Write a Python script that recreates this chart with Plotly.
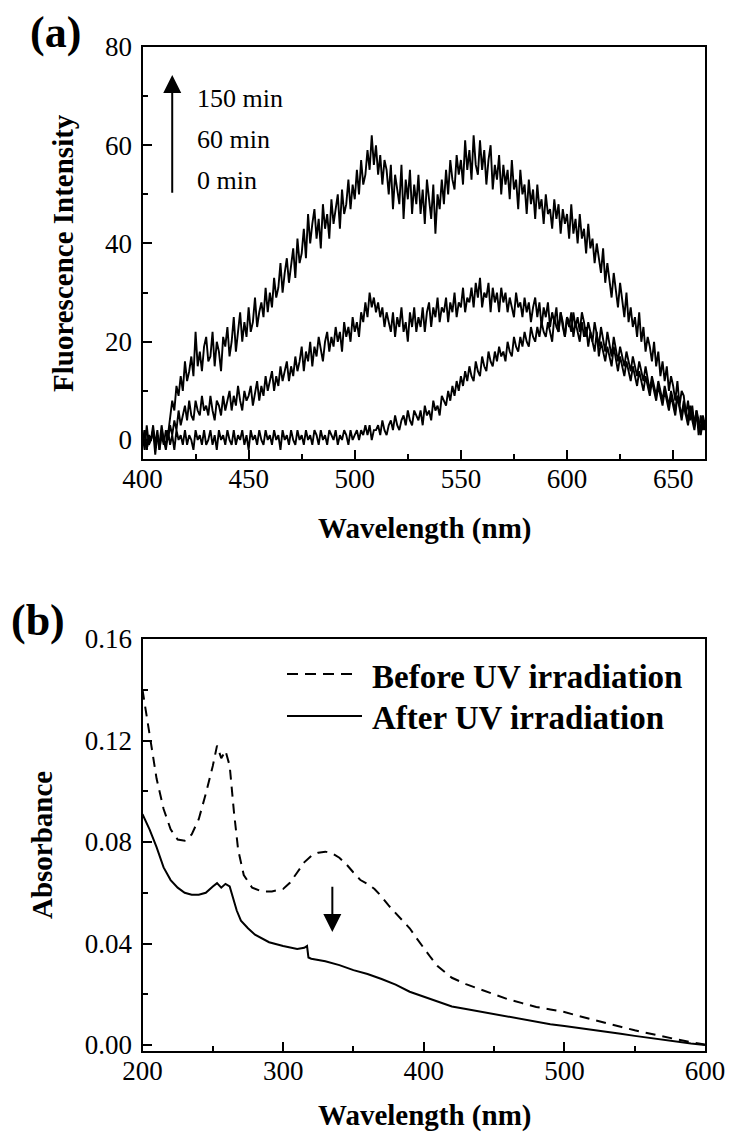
import plotly.graph_objects as go

W, H = 731, 1140

# ---------------- Panel (a): fluorescence spectra (1 nm steps from 400 nm) ----------------
wl_a_start = 400
wl_a_step = 1
fl_150 = [1, -2, 3, -1, 0, 2, -3, 1, -1, 3, 0, -2, 1,
          4, 8, 6, 11, 9, 13, 10, 16, 12, 14, 17, 13, 22, 15, 18, 14, 19,
          21, 16, 17, 22, 15, 20, 18, 14, 21, 19, 23, 17, 20, 25, 18, 22, 26, 20, 24, 21,
          27, 22, 24, 29, 23, 26, 28, 25, 31, 26, 30, 27, 33, 29, 31, 36, 30, 34, 37, 32,
          35, 39, 33, 41, 36, 38, 43, 37, 46, 40, 44, 47, 41, 45, 39, 48, 43, 46, 41, 49,
          44, 47, 50, 43, 51, 46, 48, 53, 47, 52, 49, 55, 50, 57, 52, 54, 59, 55, 62, 56,
          60, 54, 58, 52, 57, 55, 50, 56, 47, 54, 51, 48, 56, 45, 53, 49, 55, 46, 52, 48,
          54, 46, 51, 44, 53, 49, 45, 52, 42, 50, 47, 53, 48, 55, 50, 57, 53, 51, 58, 54,
          57, 52, 61, 55, 59, 53, 62, 56, 54, 61, 55, 59, 52, 57, 60, 51, 56, 53, 58, 50,
          56, 52, 55, 49, 57, 51, 53, 47, 55, 50, 52, 46, 53, 48, 51, 45, 52, 47, 49, 44,
          50, 46, 47, 43, 49, 45, 48, 42, 47, 44, 46, 41, 48, 42, 45, 40, 46, 41, 43, 38,
          44, 39, 41, 36, 40, 37, 34, 39, 32, 36, 33, 29, 34, 30, 27, 32, 28, 25, 30, 24,
          27, 23, 25, 21, 26, 20, 23, 18, 21, 19, 16, 20, 15, 18, 13, 16, 12, 15, 10, 13,
          11, 8, 12, 7, 10, 9, 5, 8, 4, 7, 3, 6, 1, 5, 2, 4]
fl_60 = [-1, 2, -2, 1, 0, 3, -1, 2, -2, 1, -1, 2, 0, 3, 1,
         4, 2, 6, 3, 5, 7, 4, 8, 5, 4, 8, 6, 5, 9, 6,
         7, 5, 9, 6, 4, 8, 7, 5, 9, 6, 8, 10, 6, 9, 7, 11, 8, 6, 10, 8,
         9, 11, 7, 10, 12, 8, 11, 9, 13, 10, 12, 14, 10, 13, 11, 15, 12, 14, 16, 12,
         15, 13, 17, 14, 16, 19, 14, 18, 16, 20, 15, 19, 17, 21, 18, 16, 20, 22, 18, 21,
         19, 23, 20, 22, 18, 24, 21, 23, 20, 25, 22, 24, 21, 26, 24, 28, 25, 30, 27, 29,
         26, 28, 25, 27, 23, 26, 24, 22, 26, 21, 25, 23, 27, 22, 24, 20, 26, 23, 27, 22,
         25, 23, 27, 22, 26, 28, 23, 27, 25, 29, 24, 27, 26, 29, 24, 28, 26, 30, 25, 28,
         27, 31, 26, 29, 28, 31, 27, 32, 29, 33, 27, 30, 29, 32, 26, 31, 28, 30, 26, 31,
         28, 30, 26, 29, 27, 25, 30, 27, 28, 25, 29, 26, 28, 24, 27, 29, 25, 28, 23, 27,
         25, 28, 23, 26, 24, 27, 22, 26, 24, 21, 25, 23, 26, 21, 24, 22, 20, 24, 21, 23,
         19, 22, 20, 18, 22, 17, 20, 18, 16, 19, 17, 15, 19, 16, 14, 17, 15, 13, 16, 14,
         12, 15, 13, 11, 14, 12, 10, 13, 11, 9, 12, 10, 8, 11, 9, 7, 10, 8, 6, 9,
         7, 5, 9, 6, 4, 7, 5, 3, 6, 4, 2, 5, 3, 1, 4, 2]
fl_0 = [-1, 2, -2, 1, 0, 2, -1, 1, -2, 2, 0, -1, 2, -1, 1, -2, 2, 0, 1, -1,
        2, -1, 1, 0, -2, 2, 0, 1, -1, 2, -1, 0, 2, -1, 1, -2, 2, 0, 1, -1,
        2, 0, -1, 2, -1, 1, 0, 2, -1, 1, -2, 2, 0, 1, -1, 2, 0, -1, 2, 0,
        1, -1, 2, 0, 1, -2, 2, 0, 1, -1, 2, 0, -1, 2, 0, 1, -1, 2, 0, 1,
        -1, 2, 1, -1, 2, 0, 1, -1, 2, 1, 0, 2, -1, 1, 0, 2, 1, -1, 2, 0,
        1, 2, 0, 2, 1, 3, 1, 3, 0, 2,
        2, 3, 1, 4, 2, 1, 3, 4, 2, 5, 3, 2, 4, 5, 3, 6, 4, 3, 6, 5,
        4, 6, 3, 7, 5, 6, 4, 8, 6, 7, 5, 9, 8, 7, 10, 8, 11, 9, 12, 10,
        13, 11, 14, 12, 15, 13, 12, 16, 14, 13, 17, 15, 14, 18, 16, 15, 18, 16, 19, 17,
        18, 16, 20, 18, 17, 21, 19, 18, 21, 19, 22, 20, 19, 23, 21, 20, 23, 21, 24, 22,
        21, 24, 22, 20, 25, 23, 22, 26, 23, 21, 25, 24, 22, 26, 23, 25, 22, 26, 24, 21,
        24, 22, 20, 24, 21, 19, 23, 20, 18, 22, 19, 17, 21, 18, 16, 19, 17, 15, 18, 16,
        14, 17, 15, 13, 16, 14, 12, 15, 12, 10, 13, 11, 9, 12, 10, 8, 11, 9, 7, 10,
        8, 6, 9, 7, 5, 8, 6, 4, 7, 5, 3, 6, 4, 2, 5, 3]
time_labels = ["150 min", "60 min", "0 min"]

# ---------------- Panel (b): absorbance spectra ----------------
wl_before = [200, 203, 206, 210, 215, 220, 225, 230, 235, 240,
             245, 250, 253, 256, 259, 262, 265, 268, 272, 278,
             285, 292, 300, 305, 310, 315, 320, 325, 330, 335,
             340, 345, 350, 355, 360, 365, 370, 375, 380, 385,
             390, 395, 400, 405, 410, 420, 430, 440, 450, 460,
             470, 480, 490, 500, 510, 520, 530, 540, 550, 560,
             570, 580, 590, 600]
abs_before = [0.140, 0.130, 0.119, 0.105, 0.093, 0.085, 0.081, 0.0805, 0.083, 0.089,
              0.099, 0.110, 0.118, 0.113, 0.116, 0.110, 0.092, 0.077, 0.067, 0.062,
              0.0605, 0.0605, 0.0615, 0.064, 0.068, 0.072, 0.0745, 0.0758, 0.0762, 0.0755,
              0.0738, 0.0712, 0.068, 0.065, 0.0635, 0.0615, 0.0585, 0.055, 0.052, 0.049,
              0.046, 0.042, 0.038, 0.0345, 0.031, 0.0265, 0.024, 0.022, 0.020, 0.018,
              0.0165, 0.015, 0.014, 0.013, 0.0115, 0.010, 0.0087, 0.0072, 0.0058, 0.0045,
              0.0033, 0.0022, 0.0011, 0.0002]
wl_after = [200, 205, 210, 215, 220, 225, 230, 235, 240, 245,
            250, 253, 256, 259, 262, 264, 267, 270, 275, 280,
            290, 300, 310, 315, 317, 318, 320, 330, 340, 350,
            360, 370, 378, 380, 390, 400, 410, 420, 430, 440,
            450, 460, 470, 480, 490, 500, 510, 520, 530, 540,
            550, 560, 570, 580, 590, 600]
abs_after = [0.091, 0.085, 0.078, 0.070, 0.065, 0.062, 0.060, 0.0592, 0.0592, 0.060,
             0.0625, 0.0638, 0.062, 0.0635, 0.0625, 0.059, 0.053, 0.049, 0.046, 0.0435,
             0.0405, 0.039, 0.0378, 0.0383, 0.039, 0.0345, 0.034, 0.033, 0.0315, 0.0295,
             0.028, 0.026, 0.0243, 0.0238, 0.021, 0.019, 0.0172, 0.0152, 0.0142, 0.0132,
             0.0122, 0.0112, 0.0102, 0.009, 0.0082, 0.0075, 0.0068, 0.006, 0.0052, 0.0044,
             0.0036, 0.0028, 0.002, 0.0013, 0.0006, 0.0]
legend_labels = ["Before UV irradiation", "After UV irradiation"]

FONT = "Liberation Serif"


def px(x):
    return x / W


def py(y):
    return 1 - y / H


fig = go.Figure()

for ys in (fl_0, fl_60, fl_150):
    xs = [wl_a_start + i * wl_a_step for i in range(len(ys))]
    fig.add_trace(go.Scatter(x=xs, y=ys, mode="lines", xaxis="x", yaxis="y",
                             line=dict(color="black", width=1.9), showlegend=False))

fig.add_trace(go.Scatter(x=wl_before, y=abs_before, mode="lines", xaxis="x2", yaxis="y2",
                         line=dict(color="black", width=2, dash="10px,7px"), showlegend=False))
fig.add_trace(go.Scatter(x=wl_after, y=abs_after, mode="lines", xaxis="x2", yaxis="y2",
                         line=dict(color="black", width=2), showlegend=False))

xdom = [px(142.5), px(705)]
axis_common = dict(showline=True, linewidth=2, linecolor="black", mirror=True,
                   showgrid=False, zeroline=False, ticks="inside", ticklen=9,
                   tickwidth=2, tickcolor="black", automargin=False,
                   tickfont=dict(family=FONT, size=27, color="black"))

fig.update_layout(
    template="none",
    width=W, height=H, margin=dict(l=0, r=0, t=0, b=0, pad=0), autosize=False,
    paper_bgcolor="white", plot_bgcolor="white",
    font=dict(family=FONT, color="black"),
    xaxis=dict(domain=xdom, anchor="y", range=[400, 665], tick0=400, dtick=50,
               minor=dict(ticks="inside", ticklen=5, tickwidth=1.5, tickcolor="black", dtick=25, tick0=400),
               ticklabelstandoff=-5, **axis_common),
    yaxis=dict(domain=[py(459), py(47)], anchor="x", range=[-3.87, 80], tick0=0, dtick=20,
               minor=dict(ticks="inside", ticklen=5, tickwidth=1.5, tickcolor="black", dtick=10, tick0=0),
               ticklabelstandoff=3, **axis_common),
    xaxis2=dict(domain=xdom, anchor="y2", range=[200, 600], tick0=200, dtick=100,
                minor=dict(ticks="inside", ticklen=5, tickwidth=1.5, tickcolor="black", dtick=50, tick0=200),
                ticklabelstandoff=-5, **axis_common),
    yaxis2=dict(domain=[py(1051), py(639)], anchor="x2", range=[-0.00236, 0.16], tick0=0, dtick=0.04,
                tickformat=".2f",
                minor=dict(ticks="inside", ticklen=5, tickwidth=1.5, tickcolor="black", dtick=0.02, tick0=0),
                ticklabelstandoff=3, **axis_common),
)

ann = []


def text(t, x, y, size, bold=False, angle=0, xanchor="center"):
    ann.append(dict(text=f"<b>{t}</b>" if bold else t, x=px(x), y=py(y), xref="paper", yref="paper",
                    showarrow=False, xanchor=xanchor, yanchor="middle", textangle=angle,
                    font=dict(family=FONT, size=size, color="black")))


text("(a)", 55, 33, 44, bold=True)
text("(b)", 38, 620, 44, bold=True)
text("Fluorescence Intensity", 63, 253, 29, bold=True, angle=-90)
text("Wavelength (nm)", 424, 528, 29, bold=True)
text("Absorbance", 42, 845, 29, bold=True, angle=-90)
text("Wavelength (nm)", 424, 1115, 29, bold=True)
for lab, yy in zip(time_labels, [98, 140, 180]):
    text(lab, 195, yy, 26, xanchor="left")
for lab, yy in zip(legend_labels, [677, 718]):
    text(lab, 370, yy, 33, bold=True, xanchor="left")

# arrows
ann.append(dict(x=414, y=74.3, ax=414, ay=50, xref="x", yref="y", axref="x", ayref="y",
                showarrow=True, arrowhead=2, arrowsize=1.8, arrowwidth=2, arrowcolor="black", text=""))
ann.append(dict(x=335, y=0.0445, ax=335, ay=0.063, xref="x2", yref="y2", axref="x2", ayref="y2",
                showarrow=True, arrowhead=2, arrowsize=1.8, arrowwidth=2, arrowcolor="black", text=""))
fig.update_layout(annotations=ann)

# legend samples for panel (b)
fig.add_shape(type="line", xref="x2 domain", yref="y2 domain",
              x0=(287 - 142.5) / 562.5, x1=(352 - 142.5) / 562.5, y0=1 - 35 / 412, y1=1 - 35 / 412,
              line=dict(color="black", width=2, dash="11px,7px"))
fig.add_shape(type="line", xref="x2 domain", yref="y2 domain",
              x0=(287 - 142.5) / 562.5, x1=(362 - 142.5) / 562.5, y0=1 - 77 / 412, y1=1 - 77 / 412,
              line=dict(color="black", width=2))

fig.write_html("out.html", config={"displayModeBar": False},
               post_script="document.body.style.margin='0';document.body.style.padding='0';")
